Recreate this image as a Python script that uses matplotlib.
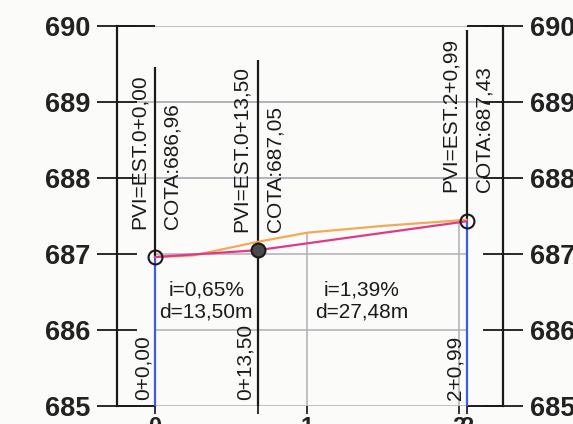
import numpy as np
import matplotlib.pyplot as plt

plt.rcParams['font.family'] = ['Liberation Sans', 'DejaVu Sans']

# estaciones en metros (1 estacion = 20 m)
pvi_st = [0.0, 13.50, 40.99]
pvi_elev = [686.96, 687.05, 687.43]
pvi_est = ["0+0,00", "0+13,50", "2+0,99"]
pvi_cota = ["686,96", "687,05", "687,43"]
line_top = [689.46, 689.55, 689.95]   # where the black vertical ends
blue_below = [True, False, True]
label_gap = [28, 18, 29]               # px above the PVI point

# terreno natural (orange)
terrain_st = [0.0, 5.0, 13.5, 20.0, 30.0, 40.99]
terrain_elev = [686.96, 686.98, 687.16, 687.28, 687.37, 687.45]

slope_txt = ["i=0,65%\nd=13,50m", "i=1,39%\nd=27,48m"]

elev_ticks = [685, 686, 687, 688, 689, 690]
wide_grid = [688, 689]                 # these grid lines reach both axes
st_ticks = [0, 13.5, 20, 40, 40.99]
st_labels = ["0", "", "1", "2", "2"]
grid_st = [20, 40]

PX = 0.72  # pixel -> points at dpi 100
gray = '#b4adb6'

fig = plt.figure(figsize=(5.73, 4.24), dpi=100, facecolor='#fbfbfa')
ax = fig.add_axes([117 / 573, 1 - 406 / 424, (503 - 117) / 573, (406 - 26) / 424])
ax.set_facecolor('none')
x0, x1 = -5.0, 45.79
ax.set_xlim(x0, x1)
ax.set_ylim(685, 690)

for s in ['top', 'bottom']:
    ax.spines[s].set_visible(False)
for s in ['left', 'right']:
    ax.spines[s].set_linewidth(1.6)
    ax.spines[s].set_color('#1a1a1a')

ax.set_yticks(elev_ticks)
ax.tick_params(axis='y', direction='inout', length=40 * PX, width=1.3, color='#1a1a1a',
               left=True, right=True, labelleft=True, labelright=True, labelsize=19.5, pad=5)
for lab in ax.get_yticklabels():
    lab.set_fontweight('bold')
    lab.set_color('#222222')

ax.set_xticks(st_ticks, st_labels)
ax.tick_params(axis='x', direction='out', length=6, width=1.3, labelsize=17, pad=1,
               colors='#222222')
for st, tk in zip(st_ticks, ax.xaxis.get_major_ticks()):
    tk.tick1line.set_color('#ff5040' if st in pvi_st else '#333333')
for lab in ax.get_xticklabels():
    lab.set_fontweight('bold')

# horizontal grid between first and last PVI
ax.hlines(elev_ticks, pvi_st[0], pvi_st[-1], color=gray, lw=1.1, zorder=1)
ax.hlines(wide_grid, x0, x1, color=gray, lw=1.1, zorder=1)
# black ends of top and bottom lines
ax.hlines([685, 690], x0, pvi_st[0], color='#1a1a1a', lw=1.4, zorder=2, clip_on=False)
ax.hlines([685, 690], pvi_st[-1], x1, color='#1a1a1a', lw=1.4, zorder=2, clip_on=False)
# vertical grid under the terrain
ax.vlines(grid_st, 685, np.interp(grid_st, terrain_st, terrain_elev), color=gray, lw=1.1, zorder=1)

for st, el, top, blue in zip(pvi_st, pvi_elev, line_top, blue_below):
    if blue:
        ax.vlines(st, 685, el, color='#3a5fd8', lw=1.6, zorder=2)
        ax.vlines(st, el, top, color='#1a1a1a', lw=1.6, zorder=2)
    else:
        ax.vlines(st, 685, top, color='#1a1a1a', lw=1.6, zorder=2)

ax.plot(terrain_st, terrain_elev, color='#f5a855', lw=1.6, zorder=3)
ax.plot(pvi_st, pvi_elev, color='#e2388a', lw=1.6, zorder=4)
for i, (st, el) in enumerate(zip(pvi_st, pvi_elev)):
    face = '#4a4a4a' if i == 1 else 'none'
    ax.plot(st, el, 'o', ms=10, mfc=face, mec='#1a1a1a', mew=1.5, zorder=5)

for st, el, est, cota, gap in zip(pvi_st, pvi_elev, pvi_est, pvi_cota, label_gap):
    ax.annotate("PVI=EST." + est, (st, el), xytext=(-16 * PX, gap * PX), textcoords='offset points',
                rotation=90, ha='center', va='bottom', fontsize=15, color='#1a1a1a')
    ax.annotate("COTA:" + cota, (st, el), xytext=(17 * PX, gap * PX), textcoords='offset points',
                rotation=90, ha='center', va='bottom', fontsize=15, color='#1a1a1a')
    ax.annotate(est, (st, 685), xytext=(-12 * PX, 6 * PX), textcoords='offset points',
                rotation=90, ha='center', va='bottom', fontsize=15, color='#1a1a1a')

for k, txt in enumerate(slope_txt):
    xm = (pvi_st[k] + pvi_st[k + 1]) / 2
    ax.text(xm, 686.38, txt, ha='center', va='center', fontsize=15, linespacing=1.25,
            color='#1a1a1a')

fig.savefig('out.png', dpi=100, facecolor=fig.get_facecolor())
